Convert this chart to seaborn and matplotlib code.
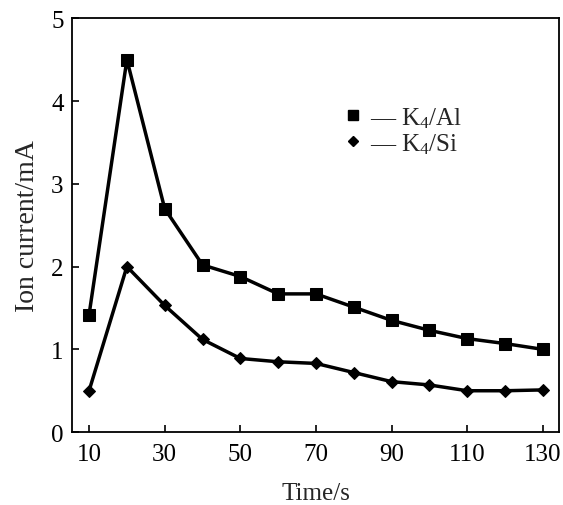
import pandas as pd
import matplotlib.pyplot as plt
import seaborn as sns
from matplotlib.lines import Line2D

# Data
time_s = [10, 20, 30, 40, 50, 60, 70, 80, 90, 100, 110, 120, 130]
k4_al = [1.42, 4.50, 2.70, 2.02, 1.88, 1.67, 1.67, 1.51, 1.35, 1.23, 1.13, 1.07, 1.00]
k4_si = [0.50, 2.00, 1.53, 1.12, 0.89, 0.85, 0.83, 0.72, 0.61, 0.57, 0.50, 0.50, 0.51]
series_names = ["K4/Al", "K4/Si"]
legend_labels = [r"— K$_4$/Al", r"— K$_4$/Si"]
x_ticks = [10, 30, 50, 70, 90, 110, 130]
y_ticks = [0, 1, 2, 3, 4, 5]

df = pd.DataFrame({
    "Time": time_s * 2,
    "Current": k4_al + k4_si,
    "Sample": [series_names[0]] * len(time_s) + [series_names[1]] * len(time_s),
})

sns.set_style("ticks")
plt.rcParams["font.family"] = ["Liberation Serif", "DejaVu Serif"]
plt.rcParams["mathtext.fontset"] = "custom"
plt.rcParams["mathtext.rm"] = "Liberation Serif"
plt.rcParams["mathtext.it"] = "Liberation Serif:italic"

fig = plt.figure(figsize=(5.63, 5.06), dpi=100)
ax = fig.add_axes([0.128, 0.144, 0.865, 0.818])

markers = {"K4/Al": "s", "K4/Si": "D"}
sizes = {"K4/Al": 8, "K4/Si": 6.5}
for name in series_names:
    sub = df[df["Sample"] == name]
    sns.lineplot(data=sub, x="Time", y="Current", ax=ax, color="black",
                 marker=markers[name], markersize=sizes[name], linewidth=2.5,
                 markeredgecolor="black", markerfacecolor="black", legend=False)

ax.set_xlim(5.5, 134.3)
ax.set_ylim(0, 5)
ax.set_xticks(x_ticks)
ax.set_yticks(y_ticks)
ax.tick_params(direction="in", length=5, width=1.2, labelsize=18, colors="black")
ax.tick_params(axis="x", pad=8)
ax.tick_params(axis="y", pad=6)
for s in ax.spines.values():
    s.set_visible(True)
    s.set_linewidth(1.3)
    s.set_color("black")

ax.set_xlabel("Time/s", fontsize=18, labelpad=12)
ax.set_ylabel("Ion current/mA", fontsize=20, labelpad=8)

handles = [
    Line2D([], [], linestyle="none", marker="s", color="black", markersize=7.5),
    Line2D([], [], linestyle="none", marker="D", color="black", markersize=5.5),
]
ax.legend(handles, legend_labels, loc="upper left", bbox_to_anchor=(0.535, 0.82),
          frameon=False, fontsize=18, handlelength=0.6, handletextpad=0.4,
          labelspacing=0.05, borderpad=0)

fig.savefig("out.png", dpi=100)
